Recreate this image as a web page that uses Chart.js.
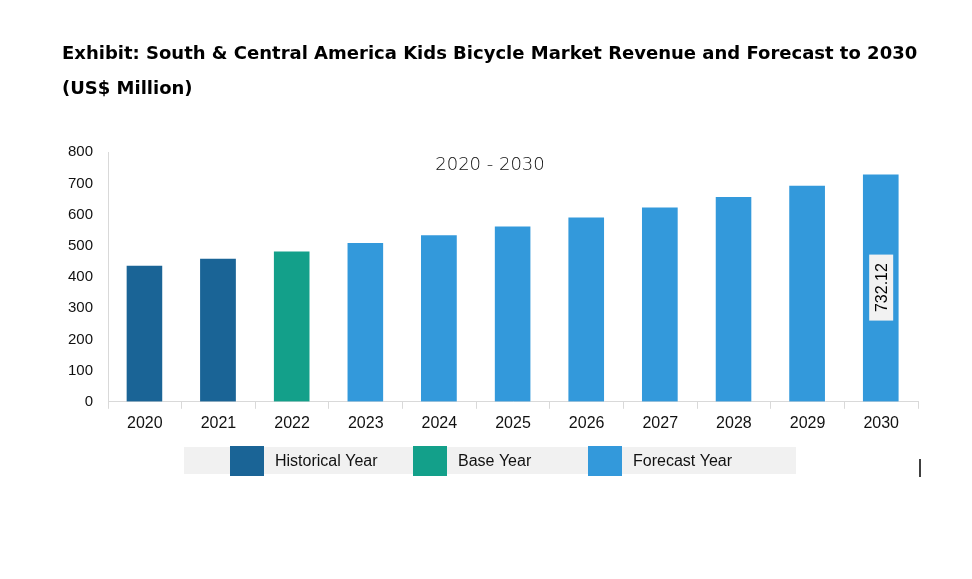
<!DOCTYPE html>
<html lang="en">

<head>
    <meta charset="UTF-8">
    <title>Kids Bicycle Market</title>
    <script src="https://cdn.jsdelivr.net/npm/chart.js@4.4.0/dist/chart.umd.min.js"></script>
    <style>
        html, body { margin: 0; padding: 0; background: #fff; }
        #wrap { width: 972px; height: 579px; }
    </style>
</head>

<body>
    <div id="wrap">
        <canvas id="chart"></canvas>
    </div>
    <script>
        const years = ["2020", "2021", "2022", "2023", "2024", "2025", "2026", "2027", "2028", "2029", "2030"]
        const revenue = [439, 462, 485, 512, 537, 565, 594, 626, 660, 696, 732.12]
        const yearType = ["Historical Year", "Historical Year", "Base Year", "Forecast Year", "Forecast Year",
            "Forecast Year", "Forecast Year", "Forecast Year", "Forecast Year", "Forecast Year", "Forecast Year"]
        const typeNames = ["Historical Year", "Base Year", "Forecast Year"]
        const typeColors = ["#1a6496", "#13a08a", "#3399db"]
        const yTicks = [0, 100, 200, 300, 400, 500, 600, 700, 800]
        const periodText = "2020 - 2030"

        const font = "'Liberation Sans', Arial, sans-serif"
        // legend strip layout (left edge of each swatch)
        const legendX = [230, 413, 588]

        // one dataset per year type, nulls elsewhere (stacked so bars stay centred)
        var datasets = typeNames.map((name, k) => ({
            label: name,
            data: revenue.map((v, i) => yearType[i] == name ? v : null),
            backgroundColor: typeColors[k],
            borderColor: "rgba(255,255,255,0.35)",
            borderWidth: { top: 1, right: 1, left: 0, bottom: 0 },
            barPercentage: 0.5,
            categoryPercentage: 1.0,
        }))

        const extras = {
            id: "extras",
            beforeDraw(chart) {
                let ctx = chart.ctx
                ctx.save()
                ctx.fillStyle = "#f1f1f1"
                ctx.fillRect(184, 447, 612, 27)
                typeNames.forEach((name, k) => {
                    ctx.fillStyle = typeColors[k]
                    ctx.fillRect(legendX[k], 446, 34, 30)
                    ctx.fillStyle = "#111"
                    ctx.font = "16px " + font
                    ctx.textAlign = "left"
                    ctx.textBaseline = "middle"
                    ctx.fillText(name, legendX[k] + 45, 462)
                })
                ctx.restore()
            },
            afterDatasetsDraw(chart) {
                let ctx = chart.ctx
                ctx.save()
                // period caption
                ctx.font = "200 18px 'DejaVu Sans', sans-serif"
                ctx.fillStyle = "#111"
                ctx.textAlign = "center"
                ctx.textBaseline = "middle"
                ctx.fillText(periodText, 490, chart.scales.y.getPixelForValue(800) + 13)

                // value label on the last bar
                let last = revenue.length - 1
                let di = typeNames.indexOf(yearType[last])
                let bar = chart.getDatasetMeta(di).data[last]
                let mid = (bar.y + bar.base) / 2
                ctx.translate(bar.x, mid)
                ctx.rotate(-Math.PI / 2)
                ctx.fillStyle = "#f2f2f2"
                ctx.fillRect(-33, -12, 66, 24)
                ctx.fillStyle = "#000"
                ctx.font = "16px " + font
                ctx.fillText(revenue[last].toFixed(2), 0, 1)
                ctx.restore()

                // stray mark to the right of the legend
                ctx.save()
                ctx.strokeStyle = "#000"
                ctx.lineWidth = 1.5
                ctx.beginPath()
                ctx.moveTo(920, 459)
                ctx.lineTo(920, 477)
                ctx.stroke()
                ctx.restore()
            }
        }

        new Chart(document.getElementById("chart"), {
            type: "bar",
            data: { labels: years, datasets: datasets },
            plugins: [extras],
            options: {
                responsive: true,
                maintainAspectRatio: false,
                animation: false,
                layout: { padding: { left: 62, right: 54, top: 0, bottom: 141 } },
                plugins: {
                    title: {
                        display: true,
                        text: ["Exhibit: South & Central America Kids Bicycle Market Revenue and Forecast to 2030", "(US$ Million)"],
                        align: "start",
                        color: "#000",
                        font: { family: "'DejaVu Sans', Verdana, sans-serif", size: 18, weight: "bold", lineHeight: 1.95 },
                        padding: { top: 37, bottom: 45 },
                    },
                    legend: { display: false },
                    tooltip: { enabled: false },
                },
                scales: {
                    x: {
                        stacked: true,
                        border: { color: "#d9d9d9" },
                        grid: { display: true, drawOnChartArea: false, tickLength: 7, color: "#d9d9d9", offset: true },
                        ticks: { color: "#111", padding: 5, font: { family: font, size: 16 } },
                    },
                    y: {
                        stacked: true,
                        min: 0,
                        max: 800,
                        afterFit: (s) => { s.width = 46 },
                        afterBuildTicks: (s) => { s.ticks = yTicks.map(v => ({ value: v })) },
                        border: { color: "#d9d9d9" },
                        grid: { display: false, drawTicks: false },
                        ticks: { color: "#111", padding: 15, font: { family: font, size: 15 } },
                    },
                },
            },
        })
    </script>
</body>

</html>
